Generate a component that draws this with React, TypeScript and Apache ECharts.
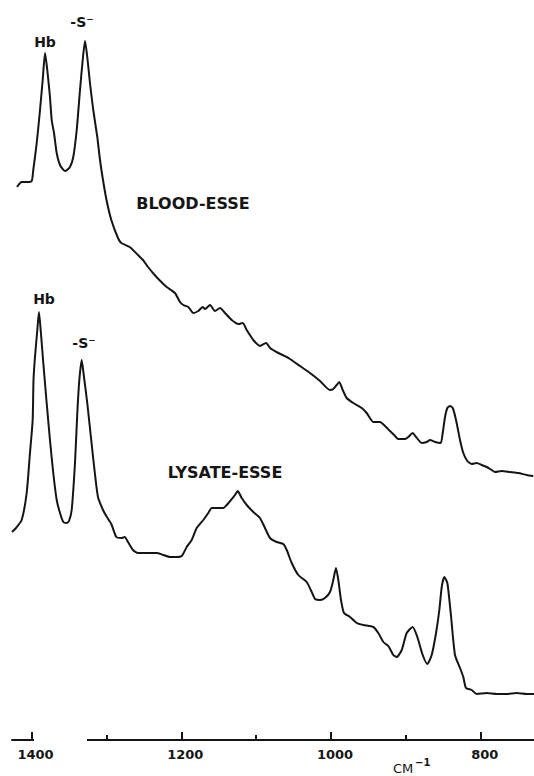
import React, { useEffect, useRef } from "react";
import * as echarts from "echarts";

// Raman-type spectra, wavenumber (cm^-1) vs relative intensity (arbitrary units)
const bloodWavenumber = [
  1419.3, 1413.1, 1406.4, 1399.7, 1397.6, 1393.0, 1388.6, 1385.0, 1381.9, 1378.9,
  1375.3, 1373.0, 1369.9, 1366.3, 1361.9, 1355.2, 1348.6, 1344.2, 1339.6, 1335.2,
  1331.6, 1328.5, 1325.5, 1321.9, 1317.5, 1312.1, 1308.5, 1304.5, 1299.8, 1293.4,
  1284.5, 1280.1, 1268.8, 1257.8, 1251.1, 1244.4, 1235.5, 1226.6, 1219.4, 1208.4,
  1201.7, 1197.3, 1190.6, 1183.9, 1177.2, 1171.4, 1168.3, 1161.6, 1154.9, 1148.3,
  1141.6, 1132.6, 1123.8, 1118.0, 1112.6, 1103.8, 1094.9, 1086.8, 1081.5, 1070.4,
  1059.2, 1054.8, 1041.4, 1028.1, 1014.7, 1001.4, 997.0, 992.4, 989.0, 984.4,
  979.1, 970.3, 959.0, 952.4, 943.6, 934.6, 927.9, 921.3, 914.6, 910.2,
  901.2, 896.8, 891.0, 886.5, 878.9, 872.3, 867.8, 861.2, 853.6, 850.9,
  847.8, 844.7, 841.1, 837.5, 833.1, 827.8, 823.4, 818.0, 812.2, 805.5,
  798.8, 792.1, 785.5, 781.1, 772.1, 761.0, 749.9, 738.7, 729.9,
];
const bloodIntensity = [
  553, 558, 558, 559, 570, 597, 630, 660, 687, 670,
  643, 620, 607, 587, 575, 569, 573, 583, 610, 650,
  680, 699, 683, 657, 630, 603, 580, 560, 540, 520,
  502, 497, 493, 485, 480, 473, 465, 458, 453, 447,
  438, 435, 433, 427, 429, 433, 431, 435, 429, 432,
  427, 420, 416, 417, 410, 400, 394, 397, 392, 387,
  383, 381, 374, 367, 359, 350, 351, 355, 358, 350,
  342, 337, 332, 327, 318, 318, 314, 309, 304, 301,
  301, 303, 307, 303, 297, 298, 300, 298, 297, 307,
  323, 332, 334, 332, 320, 300, 287, 279, 276, 277,
  275, 273, 270, 268, 269, 268, 267, 265, 264,
];

const lysateWavenumber = [
  1426.0, 1420.7, 1413.1, 1406.4, 1402.0, 1398.4, 1397.3, 1395.3, 1392.2, 1390.0,
  1387.7, 1384.2, 1379.7, 1375.3, 1370.9, 1366.3, 1361.9, 1357.5, 1353.0, 1349.9,
  1346.3, 1341.9, 1338.8, 1336.1, 1332.9, 1329.9, 1325.5, 1320.5, 1315.4, 1311.2,
  1304.5, 1300.1, 1293.4, 1286.7, 1280.1, 1275.5, 1271.1, 1264.4, 1257.8, 1248.8,
  1241.7, 1232.8, 1224.0, 1215.0, 1206.1, 1199.4, 1192.7, 1186.1, 1179.4, 1170.6,
  1163.9, 1159.4, 1152.7, 1143.9, 1139.3, 1132.6, 1128.2, 1124.6, 1119.3, 1112.6,
  1103.8, 1094.9, 1088.2, 1081.5, 1072.6, 1063.7, 1059.2, 1052.5, 1043.7, 1032.5,
  1025.8, 1021.4, 1014.7, 1008.1, 1001.4, 997.0, 993.4, 990.3, 986.7, 982.7,
  974.7, 965.7, 956.9, 943.6, 936.9, 930.2, 923.5, 916.9, 912.3, 905.6,
  899.0, 891.0, 884.8, 877.6, 871.5, 865.6, 859.8, 855.4, 852.2, 848.8,
  844.7, 840.2, 834.5, 827.8, 823.4, 819.8, 812.2, 805.5, 792.1, 778.8,
  765.4, 752.1, 738.7, 729.0,
];
const lysateIntensity = [
  208, 212, 220, 247, 287, 320, 360, 383, 410, 428,
  410, 377, 337, 300, 267, 240, 227, 218, 217, 219,
  230, 277, 327, 360, 380, 363, 337, 302, 267, 243,
  230, 224, 216, 203, 202, 203, 198, 190, 187, 187,
  187, 187, 185, 183, 183, 184, 193, 200, 212, 220,
  227, 232, 232, 232, 235, 241, 245, 249, 242, 235,
  228, 222, 212, 202, 198, 196, 190, 177, 165, 158,
  148, 141, 140, 142, 148, 160, 172, 160, 140, 127,
  123, 117, 115, 113, 107, 98, 94, 85, 83, 90,
  107, 113, 103, 85, 76, 85, 107, 130, 153, 163,
  157, 127, 85, 72, 63, 52, 50, 46, 47, 46,
  46, 47, 46, 46,
];

const allTicks = [1400, 1300, 1200, 1100, 1000, 900, 800];
const labelTicks = [1400, 1200, 1000, 800];
const xMin = 729;
const xMax = 1426;

const INK = "#151515";
const FONT = "DejaVu Sans";

export default function App() {
  const ref = useRef<HTMLDivElement>(null);

  useEffect(() => {
    document.body.style.margin = "0";
    if (!ref.current) return;
    const chart = echarts.init(ref.current, undefined, { renderer: "svg" });

    const blood = bloodWavenumber.map((w, i) => [w, bloodIntensity[i]]);
    const lysate = lysateWavenumber.map((w, i) => [w, lysateIntensity[i]]);

    const textStyle = (extra: any = {}) => ({
      fill: INK,
      fontFamily: FONT,
      fontSize: 14,
      fontWeight: "bold",
      ...extra,
    });

    chart.setOption({
      animation: false,
      backgroundColor: "#ffffff",
      grid: { left: 12, right: 0, top: 0, bottom: 36, containLabel: false },
      xAxis: [
        {
          type: "value",
          min: xMin,
          max: xMax,
          inverse: true,
          position: "bottom",
          splitLine: { show: false },
          axisLine: { show: true, lineStyle: { color: INK, width: 2 } },
          axisTick: {
            show: true,
            inside: true,
            length: 5,
            customValues: allTicks,
            lineStyle: { color: INK, width: 2 },
          },
          axisLabel: {
            show: true,
            customValues: labelTicks,
            formatter: (v: number) => String(v),
            margin: 8,
            color: INK,
            fontFamily: FONT,
            fontSize: 13,
            fontWeight: "bold",
            padding: [0, 0, 0, 8],
          },
        },
        {
          type: "value",
          min: xMin,
          max: xMax,
          inverse: true,
          position: "bottom",
          offset: 0,
          splitLine: { show: false },
          axisLine: { show: false },
          axisTick: {
            show: true,
            inside: true,
            length: 8,
            customValues: labelTicks,
            lineStyle: { color: INK, width: 2 },
          },
          axisLabel: { show: false },
        },
      ],
      yAxis: { type: "value", min: 0, max: 740, show: false },
      series: [
        {
          name: "BLOOD-ESSE",
          type: "line",
          xAxisIndex: 0,
          data: blood,
          showSymbol: false,
          smooth: 0.2,
          lineStyle: { color: INK, width: 2 },
        },
        {
          name: "LYSATE-ESSE",
          type: "line",
          xAxisIndex: 0,
          data: lysate,
          showSymbol: false,
          smooth: 0.2,
          lineStyle: { color: INK, width: 2 },
        },
      ],
      graphic: [
        { type: "rect", z: 100, shape: { x: 34, y: 738, width: 53, height: 4 }, style: { fill: "#ffffff" } },
        { type: "text", z: 100, x: 45, y: 42, style: textStyle({ text: "Hb", align: "center", verticalAlign: "middle" }) },
        { type: "text", z: 100, x: 82, y: 22, style: textStyle({ text: "-S\u207B", align: "center", verticalAlign: "middle" }) },
        { type: "text", z: 100, x: 44, y: 299, style: textStyle({ text: "Hb", align: "center", verticalAlign: "middle" }) },
        { type: "text", z: 100, x: 84, y: 343, style: textStyle({ text: "-S\u207B", align: "center", verticalAlign: "middle" }) },
        { type: "text", z: 100, x: 193, y: 203, style: textStyle({ text: "BLOOD-ESSE", fontSize: 16, align: "center", verticalAlign: "middle" }) },
        { type: "text", z: 100, x: 225, y: 472, style: textStyle({ text: "LYSATE-ESSE", fontSize: 16, align: "center", verticalAlign: "middle" }) },
        { type: "text", z: 100, x: 393, y: 775, style: textStyle({ text: "CM", fontSize: 13, fontWeight: "normal", align: "left", verticalAlign: "bottom" }) },
        { type: "text", z: 100, x: 415, y: 757, style: textStyle({ text: "\u22121", fontSize: 10, align: "left", verticalAlign: "top" }) },
      ],
    });

    return () => chart.dispose();
  }, []);

  return <div ref={ref} style={{ width: 534, height: 776 }} />;
}
